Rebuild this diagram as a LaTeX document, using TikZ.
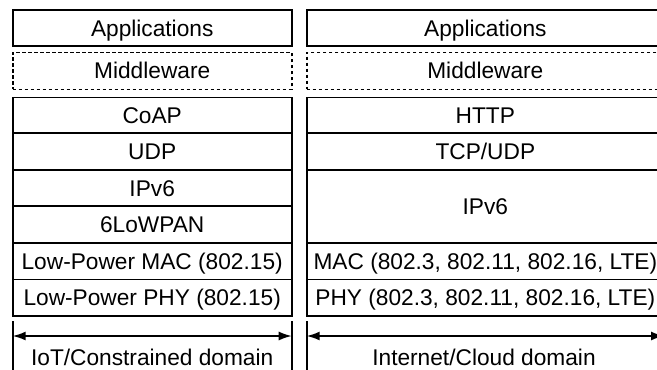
\documentclass[tikz,border=0pt]{standalone}
\usepackage{fontspec}
\setmainfont{Liberation Sans}
\usetikzlibrary{arrows.meta}
\begin{document}
\begin{tikzpicture}[x=1pt,y=-1pt,
  layer/.style={draw=black, line width=1.6pt, inner sep=0pt, outer sep=0pt,
    text height=16.3pt, text depth=0pt, font=\fontsize{22.7}{27}\selectfont},
  dlayer/.style={layer, dash pattern=on 3.5pt off 2.5pt},
  bar/.style={line width=1.6pt},
  span/.style={line width=1.6pt, {Latex[length=13pt,width=9pt]}-{Latex[length=13pt,width=9pt]}},
  lbl/.style={anchor=base, inner sep=0pt, font=\fontsize{22.7}{27}\selectfont}]
\useasboundingbox (0,0) rectangle (657,370);
\clip (0,0) rectangle (657,370);
% left stack
\node[layer, minimum width=279pt, minimum height=35.7pt] (lapp) at (152.2,27.85) {Applications};
\node[dlayer, minimum width=279pt, minimum height=37pt] (lmid) at (152.2,70.8) {Middleware};
\node[layer, minimum width=279pt, minimum height=35.7pt] (lcoap) at (152.2,115.15) {CoAP};
\node[layer, minimum width=279pt, minimum height=37pt] (ludp) at (152.2,151.5) {UDP};
\node[layer, minimum width=279pt, minimum height=36pt] (lip) at (152.2,188) {IPv6};
\node[layer, minimum width=279pt, minimum height=36.7pt] (l6lo) at (152.2,224.35) {6LoWPAN};
\node[layer, minimum width=279pt, minimum height=36.6pt] (lmac) at (152.2,261) {Low-Power MAC (802.15)};
\node[layer, minimum width=279pt, minimum height=36.7pt] (lphy) at (152.2,297.65) {Low-Power PHY (802.15)};
% right stack
\node[layer, minimum width=357.3pt, minimum height=35.7pt] (rapp) at (485.35,27.85) {Applications};
\node[dlayer, minimum width=357.3pt, minimum height=37pt] (rmid) at (485.35,70.8) {Middleware};
\node[layer, minimum width=357.3pt, minimum height=35.7pt] (rhttp) at (485.35,115.15) {HTTP};
\node[layer, minimum width=357.3pt, minimum height=37pt] (rtcp) at (485.35,151.5) {TCP/UDP};
\node[layer, minimum width=357.3pt, minimum height=72.7pt] (rip) at (485.35,206.35) {IPv6};
\node[layer, minimum width=357.3pt, minimum height=36.6pt] (rmac) at (485.35,261) {MAC (802.3, 802.11, 802.16, LTE)};
\node[layer, minimum width=357.3pt, minimum height=36.7pt] (rphy) at (485.35,297.65) {PHY (802.3, 802.11, 802.16, LTE)};
% domain markers
\coordinate (l1t) at (12.7,321); \coordinate (l1b) at (12.7,372);
\coordinate (l2t) at (291.7,321); \coordinate (l2b) at (291.7,372);
\coordinate (r1t) at (306.7,321); \coordinate (r1b) at (306.7,372);
\coordinate (r2t) at (664,321); \coordinate (r2b) at (664,372);
\draw[bar] (l1t) -- (l1b);
\draw[bar] (l2t) -- (l2b);
\draw[bar] (r1t) -- (r1b);
\draw[bar] (r2t) -- (r2b);
\coordinate (la) at (12.7,336); \coordinate (lb) at (291.7,336);
\coordinate (ra) at (306.7,336); \coordinate (rb) at (664,336);
\draw[span] (la) -- (lb);
\draw[span] (ra) -- (rb);
\node[lbl] (ldom) at (152.2,365) {IoT/Constrained domain};
\node[lbl] (rdom) at (484,365) {Internet/Cloud domain};
\end{tikzpicture}
\end{document}
